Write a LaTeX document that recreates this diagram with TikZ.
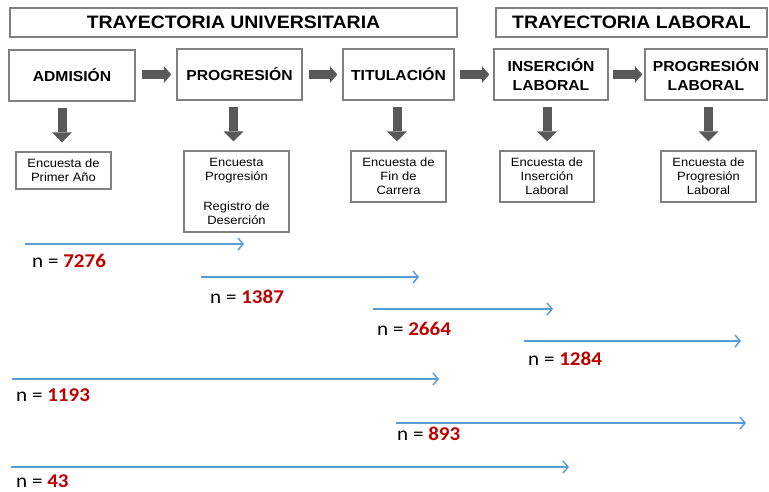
\documentclass[tikz,border=0pt]{standalone}
\usepackage{fontspec}
\setmainfont[FakeStretch=1.08]{Liberation Sans}
\newfontfamily\calib[FakeStretch=1.08]{Carlito}
\usetikzlibrary{arrows.meta}
\definecolor{boxgray}{HTML}{808080}
\definecolor{arrgray}{HTML}{595959}
\definecolor{lineblue}{HTML}{5B9BD5}
\definecolor{numred}{HTML}{C00000}
\begin{document}
\begin{tikzpicture}[x=1pt,y=-1pt,
  box/.style={draw=boxgray, line width=1.3pt, fill=white, inner sep=0pt, align=center},
  header/.style={box, minimum height=29pt, font=\fontsize{18}{20}\selectfont\bfseries},
  stage/.style={box, minimum height=51pt, font=\fontsize{14.5}{18.5}\selectfont\bfseries},
  survey/.style={box, line width=1.1pt, font=\fontsize{12}{14}\selectfont},
  fatright/.style={draw=arrgray, line width=9pt, -{Triangle[length=7.5pt,width=17pt,line width=0pt]}},
  fatdown/.style={draw=arrgray, line width=9pt, -{Triangle[length=10pt,width=20pt,line width=0pt]}},
  bluearrow/.style={draw=lineblue, line width=1.5pt, -{Straight Barb[length=5pt,width=12pt]}},
  nlabel/.style={anchor=west, inner sep=0pt, font=\calib\fontsize{19.5}{20}\selectfont}
]
\useasboundingbox (0,0) rectangle (769,491);

% headers
\node[header, minimum width=447pt] (univ) at (233.5,22.5) {TRAYECTORIA UNIVERSITARIA};
\node[header, minimum width=271pt] (lab) at (631.5,22.5) {TRAYECTORIA LABORAL};

% stages
\node[stage, minimum width=126pt] (adm) at (72,75.5) {ADMISIÓN};
\node[stage, minimum width=125pt] (prog) at (239.5,74.5) {PROGRESIÓN};
\node[stage, minimum width=111pt] (tit) at (398.5,74.5) {TITULACIÓN};
\node[stage, minimum width=114pt] (ins) at (551,74.5) {INSERCIÓN\\LABORAL};
\node[stage, minimum width=122pt] (plab) at (706,74.5) {PROGRESIÓN\\LABORAL};

% surveys
\node[survey, minimum width=95pt, minimum height=37pt] (s1) at (63.5,170.5) {Encuesta de\\Primer Año};
\node[survey, minimum width=105pt, minimum height=81pt] (s2) at (236.5,191.5) {Encuesta\\Progresión\\[16pt]Registro de\\Deserción};
\node[survey, minimum width=95pt, minimum height=51pt] (s3) at (398.5,176.5) {Encuesta de\\Fin de\\Carrera};
\node[survey, minimum width=94pt, minimum height=51pt] (s4) at (547,176.5) {Encuesta de\\Inserción\\Laboral};
\node[survey, minimum width=95pt, minimum height=51pt] (s5) at (708.5,176.5) {Encuesta de\\Progresión\\Laboral};

% horizontal fat arrows
\draw[fatright, shorten <=6pt] (adm.east |- prog.west) -- ([xshift=-5pt]prog.west);
\draw[fatright, shorten <=6pt] (prog.east) -- ([xshift=-5pt]tit.west);
\draw[fatright, shorten <=5pt] (tit.east) -- ([xshift=-4pt]ins.west);
\draw[fatright, shorten <=4pt] (ins.east) -- ([xshift=-2pt]plab.west);

% down fat arrows
\draw[fatdown, shorten <=6pt] ([xshift=-1.5pt]s1.north |- adm.south) -- ([xshift=-1.5pt,yshift=9pt]s1.north);
\draw[fatdown, shorten <=6pt] ([xshift=-3pt]s2.north |- prog.south) -- ([xshift=-3pt,yshift=9pt]s2.north);
\draw[fatdown, shorten <=6pt] ([xshift=-1.5pt]s3.north |- tit.south) -- ([xshift=-1.5pt,yshift=9pt]s3.north);
\draw[fatdown, shorten <=6pt] (s4.north |- ins.south) -- ([yshift=9pt]s4.north);
\draw[fatdown, shorten <=6pt] (s5.north |- plab.south) -- ([yshift=9pt]s5.north);

% blue arrows
\coordinate (a1s) at (25,244);  \coordinate (a1e) at (244,244);
\coordinate (a2s) at (201,277); \coordinate (a2e) at (419,277);
\coordinate (a3s) at (373,309); \coordinate (a3e) at (553,309);
\coordinate (a4s) at (524,341); \coordinate (a4e) at (741,341);
\coordinate (a5s) at (12,379);  \coordinate (a5e) at (439,379);
\coordinate (a6s) at (396,423); \coordinate (a6e) at (746,423);
\coordinate (a7s) at (11,467);  \coordinate (a7e) at (569,467);
\foreach \i in {1,...,7} { \draw[bluearrow] (a\i s) -- (a\i e); }

% labels
\node[nlabel] (n1) at (32,261) {n = \textcolor{numred}{\bfseries 7276}};
\node[nlabel] (n2) at (210,297) {n = \textcolor{numred}{\bfseries 1387}};
\node[nlabel] (n3) at (377,329) {n = \textcolor{numred}{\bfseries 2664}};
\node[nlabel] (n4) at (528,359) {n = \textcolor{numred}{\bfseries 1284}};
\node[nlabel] (n5) at (16,395) {n = \textcolor{numred}{\bfseries 1193}};
\node[nlabel] (n6) at (397,434) {n = \textcolor{numred}{\bfseries 893}};
\node[nlabel] (n7) at (16,481) {n = \textcolor{numred}{\bfseries 43}};
\end{tikzpicture}
\end{document}
